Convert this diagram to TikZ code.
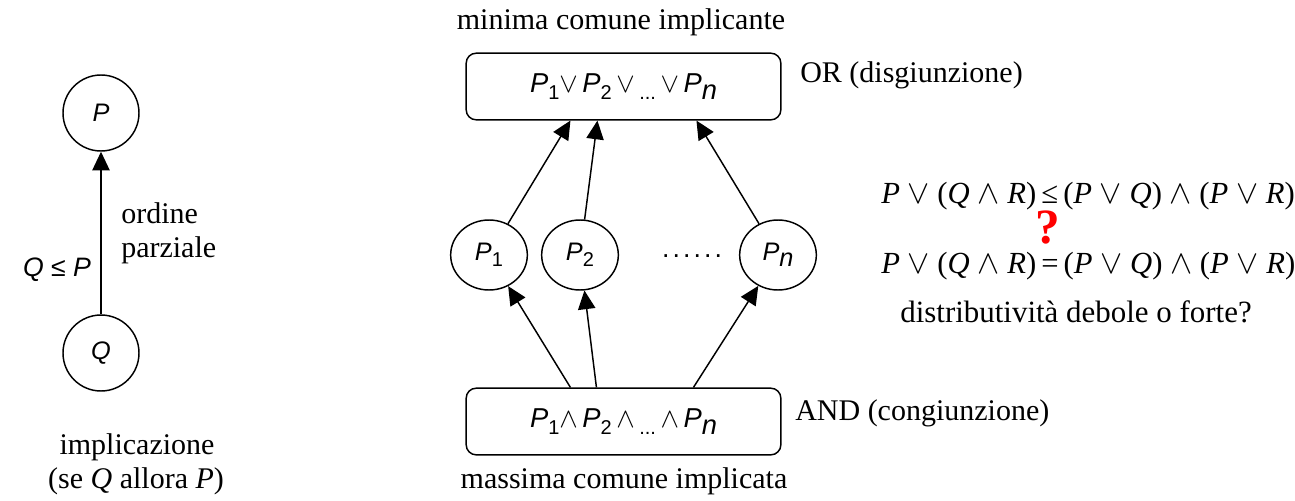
\documentclass[tikz,border=0pt]{standalone}
\usepackage{fontspec}
\setmainfont{Liberation Serif}
\setsansfont{Liberation Sans}
\usetikzlibrary{arrows.meta,shapes.geometric}

% lowered subscript in the sans node labels
\newcommand\lowsub[1]{\raisebox{-0.45ex}{\fontsize{15}{15}\selectfont #1}}
\newcommand\lown[1]{\raisebox{-0.45ex}{\textit{#1}}}
\newcommand\spreaddot{.\kern2.3pt}

\tikzset{
  conn/.style={line width=1.1pt, -{Triangle[length=14pt, width=13pt]}},
  circ/.style={draw, line width=1.1pt, circle, minimum size=57pt, inner sep=0pt,
               font=\sffamily\fontsize{19}{22}\selectfont},
  oval/.style={draw, line width=1.1pt, ellipse, minimum width=57.5pt, minimum height=52.5pt,
               inner sep=0pt, font=\sffamily\fontsize{19}{22}\selectfont},
  opbox/.style={draw, line width=1.1pt, rounded corners=7.5pt, minimum width=236pt,
                minimum height=50pt, font=\sffamily\fontsize{20.5}{24}\selectfont},
  txt/.style={font=\fontsize{22.5}{26}\selectfont, inner sep=0pt},
  eqtxt/.style={font=\fontsize{23}{27}\selectfont, inner sep=0pt},
  sftxt/.style={font=\sffamily\fontsize{20}{23}\selectfont, inner sep=0pt},
}

\begin{document}
\begin{tikzpicture}[x=0.75pt, y=-0.75pt]
\useasboundingbox (0,0) rectangle (1295,500);

% ---- partial order: Q below P ----
\node[circ] (P) at (101,113) {\textit{P}};
\node[circ] (Q) at (101,353) {\textit{Q}};
\draw[conn] (Q) -- (P);
\node[sftxt] (qlep) at (57,270) {\textit{Q} ≤ \textit{P}};
\node[txt, anchor=west] (ord) at (121,213) {ordine};
\node[txt, anchor=west] (parz) at (121,250) {parziale};
\node[txt] (impl) at (137,447) {implicazione};
\node[txt] (seq) at (136,481) {(se \textit{Q} allora \textit{P})};

% ---- lattice of P_1 ... P_n ----
\node[opbox] (top) at (623.5,86.5)
  {\textit{P}\lowsub{1}$\vee$\,\textit{P}\lowsub{2}\,$\vee$\,\lowsub{...}\,$\vee$\,\textit{P}\lown{n}};
\node[opbox] (bot) at (623.5,421.5)
  {\textit{P}\lowsub{1}$\wedge$\,\textit{P}\lowsub{2}\,$\wedge$\,\lowsub{...}\,$\wedge$\,\textit{P}\lown{n}};

\node[oval] (p1) at (489,255) {\textit{P}\lowsub{1}};
\node[oval] (p2) at (580,255) {\textit{P}\lowsub{2}};
\node[oval] (pn) at (778,255) {\textit{P}\lown{n}};
\node[sftxt] (dots) at (692,256)
  {\spreaddot\spreaddot\spreaddot\spreaddot\spreaddot.};

\draw[conn] (p1) -- ([xshift=78.75pt]top.south west);
\draw[conn] (p2) -- ([xshift=99pt]top.south west);
\draw[conn] (pn) -- ([xshift=173.25pt]top.south west);
\draw[conn] ([xshift=78.75pt]bot.north west) -- (p1);
\draw[conn] ([xshift=98.25pt]bot.north west) -- (p2);
\draw[conn] ([xshift=171pt]bot.north west) -- (pn);

\node[txt] (minima) at (621,22) {minima comune implicante};
\node[txt, anchor=west] (or) at (800,75) {OR (disgiunzione)};
\node[txt, anchor=west] (and) at (795,413) {AND (congiunzione)};
\node[txt] (massima) at (624,481) {massima comune implicata};

% ---- weak vs strong distributivity ----
\node[eqtxt, anchor=base west] (weak) at (881,203)
  {\textit{P} $\vee$ (\textit{Q} $\wedge$ \textit{R})\,≤\,(\textit{P} $\vee$ \textit{Q}) $\wedge$ (\textit{P} $\vee$ \textit{R})};
\node[eqtxt, anchor=base west] (strong) at (881,273)
  {\textit{P} $\vee$ (\textit{Q} $\wedge$ \textit{R})\,=\,(\textit{P} $\vee$ \textit{Q}) $\wedge$ (\textit{P} $\vee$ \textit{R})};
\node[font=\bfseries\fontsize{37}{37}\selectfont, text=red, inner sep=0pt] (qm) at (1048,228) {?};
\node[font=\fontsize{23.2}{27}\selectfont, inner sep=0pt] (dist) at (1076,312) {distributività debole o forte?};
\end{tikzpicture}
\end{document}
